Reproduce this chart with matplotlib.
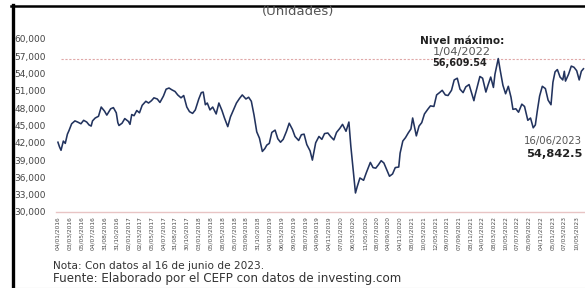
import matplotlib
matplotlib.use('Agg')
import matplotlib.pyplot as plt
from matplotlib.lines import Line2D
from matplotlib.ticker import FuncFormatter
import pandas as pd

# ── Data ───────────────────────────────────────────────────────────────────
dates = [
    "2016-01-04", "2016-01-12", "2016-01-20", "2016-02-01", "2016-02-11", "2016-02-22",
    "2016-03-01", "2016-03-15", "2016-04-01", "2016-04-15", "2016-05-02", "2016-05-16",
    "2016-06-01", "2016-06-13", "2016-06-24", "2016-07-01", "2016-07-15", "2016-08-01",
    "2016-08-15", "2016-09-01", "2016-09-13", "2016-10-03", "2016-10-17", "2016-11-01",
    "2016-11-09", "2016-11-15", "2016-12-01", "2016-12-15",
    "2017-01-03", "2017-01-11", "2017-01-20", "2017-02-01", "2017-02-15", "2017-03-01",
    "2017-03-15", "2017-04-03", "2017-04-17", "2017-05-02", "2017-05-15", "2017-06-01",
    "2017-06-15", "2017-07-03", "2017-07-17", "2017-08-01", "2017-08-15", "2017-09-01",
    "2017-09-15", "2017-10-02", "2017-10-16", "2017-11-01", "2017-11-15", "2017-12-01",
    "2017-12-15",
    "2018-01-02", "2018-01-15", "2018-01-25", "2018-02-05", "2018-02-15", "2018-03-01",
    "2018-03-15", "2018-04-02", "2018-04-16", "2018-05-02", "2018-05-15", "2018-06-01",
    "2018-06-15", "2018-07-02", "2018-07-16", "2018-08-01", "2018-08-15", "2018-09-03",
    "2018-09-17", "2018-10-01", "2018-10-15", "2018-10-29", "2018-11-12", "2018-11-27",
    "2018-12-10", "2018-12-20",
    "2019-01-02", "2019-01-15", "2019-02-01", "2019-02-15", "2019-03-01", "2019-03-15",
    "2019-04-01", "2019-04-15", "2019-05-02", "2019-05-15", "2019-06-03", "2019-06-17",
    "2019-07-01", "2019-07-15", "2019-08-01", "2019-08-13", "2019-08-30", "2019-09-16",
    "2019-10-01", "2019-10-15", "2019-11-01", "2019-11-15", "2019-12-02", "2019-12-16",
    "2020-01-02", "2020-01-16", "2020-02-03", "2020-02-18", "2020-02-28", "2020-03-09",
    "2020-03-23", "2020-04-01", "2020-04-15", "2020-05-04", "2020-05-18", "2020-06-08",
    "2020-06-22", "2020-07-06", "2020-07-20", "2020-08-03", "2020-08-17", "2020-09-01",
    "2020-09-15", "2020-10-01", "2020-10-15", "2020-11-02", "2020-11-09", "2020-11-23",
    "2020-12-07", "2020-12-21",
    "2021-01-04", "2021-01-13", "2021-02-01", "2021-02-15", "2021-03-01", "2021-03-15",
    "2021-04-01", "2021-04-15", "2021-05-03", "2021-05-17", "2021-06-01", "2021-06-15",
    "2021-07-01", "2021-07-15", "2021-08-02", "2021-08-16", "2021-09-01", "2021-09-15",
    "2021-10-01", "2021-10-15", "2021-11-01", "2021-11-26", "2021-12-01", "2021-12-15",
    "2021-12-27",
    "2022-01-10", "2022-01-27", "2022-02-07", "2022-02-21", "2022-03-07", "2022-03-15",
    "2022-04-01", "2022-04-11", "2022-04-25", "2022-05-09", "2022-05-23", "2022-06-06",
    "2022-06-16", "2022-07-01", "2022-07-15", "2022-08-01", "2022-08-15", "2022-09-01",
    "2022-09-15", "2022-09-29", "2022-10-10", "2022-10-20", "2022-11-01", "2022-11-15",
    "2022-12-01", "2022-12-15", "2022-12-30",
    "2023-01-09", "2023-01-20", "2023-02-01", "2023-02-15", "2023-03-01", "2023-03-09",
    "2023-03-15", "2023-03-31", "2023-04-14", "2023-04-28", "2023-05-12", "2023-05-25",
    "2023-06-05", "2023-06-16",
]
ipc = [
    42100, 41300, 40700, 42300, 41900, 43500,
    44100, 45300, 45800, 45600, 45300, 45900,
    45600, 45100, 44900, 45800, 46300, 46600,
    48200, 47500, 46800, 47900, 48100, 47200,
    45500, 45000, 45400, 46200,
    45700, 45200, 46900, 46700, 47600, 47200,
    48500, 49200, 48900, 49300, 49800, 49600,
    49000, 50100, 51300, 51500, 51200, 50900,
    50300, 49800, 50200, 48200, 47400, 47100,
    47700,
    49600, 50700, 50800, 48600, 48900, 47700,
    48200, 47000, 48900, 47600, 46300, 44800,
    46500, 47800, 48900, 49700, 50300, 49600,
    49900, 49200, 46800, 43900, 42800, 40500,
    41000, 41600,
    41900, 43800, 44200, 42700, 42100, 42600,
    44000, 45400, 44300, 43100, 42400, 43400,
    43500, 41700, 40600, 39000, 42000, 43100,
    42600, 43600, 43700, 43100, 42500, 43800,
    44500, 45200, 44000, 45600, 41400, 38000,
    33300, 34400, 35900, 35500, 36800, 38600,
    37700, 37600, 38200, 38900, 38500, 37300,
    36200, 36600, 37700, 37800, 40200, 42300,
    42900, 43700,
    44400, 46300, 43200, 44900, 45500, 47000,
    47800, 48400, 48300, 50300, 50700, 51100,
    50300, 50200, 51100, 52900, 53200, 51300,
    50700, 51700, 52100, 49300, 50100, 51900,
    53500,
    53200, 50800, 52000, 53400, 51600, 53900,
    56609.54, 54600, 52000, 50500, 51800, 49900,
    47800, 47900, 47300, 48700, 48300, 45900,
    46300, 44600, 45100, 47500, 50100, 51800,
    51400, 49400, 48600,
    52500, 54300, 54700, 53400, 52900, 54400,
    52700, 53900, 55300, 55100, 54500, 52900,
    54400, 54842.5,
]

tick_labels = [
    "04/01/2016", "03/03/2016", "05/05/2016", "04/07/2016", "31/08/2016", "31/10/2016",
    "02/01/2017", "02/03/2017", "05/05/2017", "04/07/2017", "31/08/2017", "30/10/2017",
    "03/01/2018", "05/03/2018", "08/05/2018", "05/07/2018", "03/09/2018", "31/10/2018",
    "04/01/2019", "06/03/2019", "09/05/2019", "08/07/2019", "04/09/2019", "04/11/2019",
    "07/01/2020", "06/03/2020", "11/05/2020", "08/07/2020", "04/09/2020", "04/11/2020",
    "08/01/2021", "10/03/2021", "12/05/2021", "09/07/2021", "07/09/2021", "08/11/2021",
    "04/01/2022", "08/03/2022", "10/05/2022", "07/07/2022", "05/09/2022", "04/11/2022",
    "05/01/2023", "07/03/2023", "10/05/2023",
]
y_ticks = [30000, 33000, 36000, 39000, 42000, 45000, 48000, 51000, 54000, 57000, 60000]

max_date, max_value = "1/04/2022", 56609.54
last_date, last_value = "16/06/2023", 54842.5

# ── Figure ─────────────────────────────────────────────────────────────────
x = pd.to_datetime(dates)
tick_pos = pd.to_datetime(tick_labels, format="%d/%m/%Y")

W, H = 585, 288
fig = plt.figure(figsize=(W / 100, H / 100), dpi=100)
ax = fig.add_axes([56 / W, 1 - 212 / H, 1 - 56 / W, 173 / H])

ax.plot(x, ipc, color='#22335e', lw=1.15, zorder=3)
ax.axhline(max_value, color='#e0a8a8', lw=0.8, ls=(0, (2, 1.5)), xmin=0.01, zorder=2)

ax.set_ylim(30000, 60000)
ax.set_xlim(pd.Timestamp("2015-12-25"), pd.Timestamp("2023-06-24"))
ax.set_yticks(y_ticks)
ax.yaxis.set_major_formatter(FuncFormatter(lambda v, p: f"{v:,.0f}"))
ax.set_xticks(tick_pos)
ax.set_xticklabels(tick_labels, rotation=90, fontsize=4.2, color='#4a4a4a')
ax.tick_params(axis='x', length=0, pad=3)
ax.tick_params(axis='y', length=0, pad=30, labelsize=6.5, labelcolor='#444444')
for lbl in ax.get_yticklabels():
    lbl.set_horizontalalignment('left')

for s in ['top', 'right', 'left']:
    ax.spines[s].set_visible(False)
ax.spines['bottom'].set_color('#e8c4c4')
ax.spines['bottom'].set_linewidth(1.0)

# ── Annotations ──
fig.text(462 / W, 1 - 41 / H, "Nivel máximo:", ha='center', va='center',
         fontsize=7.6, fontweight='bold', color='#222222')
fig.text(462 / W, 1 - 52 / H, max_date, ha='center', va='center', fontsize=8.2, color='#555555')
fig.text(460 / W, 1 - 63 / H, f"{max_value:,.2f}", ha='center', va='center',
         fontsize=7, fontweight='bold', color='#222222')
fig.text(524 / W, 1 - 141 / H, last_date, ha='left', va='center', fontsize=7.3, color='#555555')
fig.text(526 / W, 1 - 154 / H, f"{last_value:,.1f}", ha='left', va='center',
         fontsize=8.2, fontweight='bold', color='#222222')

fig.text(298 / W, 1 - 11 / H, "(Unidades)", ha='center', va='center', fontsize=9.5, color='#555555')
fig.text(53 / W, 1 - 266 / H, "Nota: Con datos al 16 de junio de 2023.", ha='left', va='center',
         fontsize=7.6, color='#333333')
fig.text(53 / W, 1 - 278.5 / H, "Fuente: Elaborado por el CEFP con datos de investing.com", ha='left',
         va='center', fontsize=8.6, color='#333333')

# ── Frame of the cropped picture ──
fig.add_artist(Line2D([12.5 / W, 12.5 / W], [0, 1 - 5 / H], color='black', lw=2.4,
                      transform=fig.transFigure))
fig.add_artist(Line2D([11 / W, 1], [1 - 5.5 / H, 1 - 5.5 / H], color='black', lw=1.8,
                      transform=fig.transFigure))
fig.add_artist(Line2D([14 / W, 1], [0.5 / H, 0.5 / H], color='#bbbbbb', lw=0.8,
                      transform=fig.transFigure))

fig.savefig("out.png", dpi=100)
